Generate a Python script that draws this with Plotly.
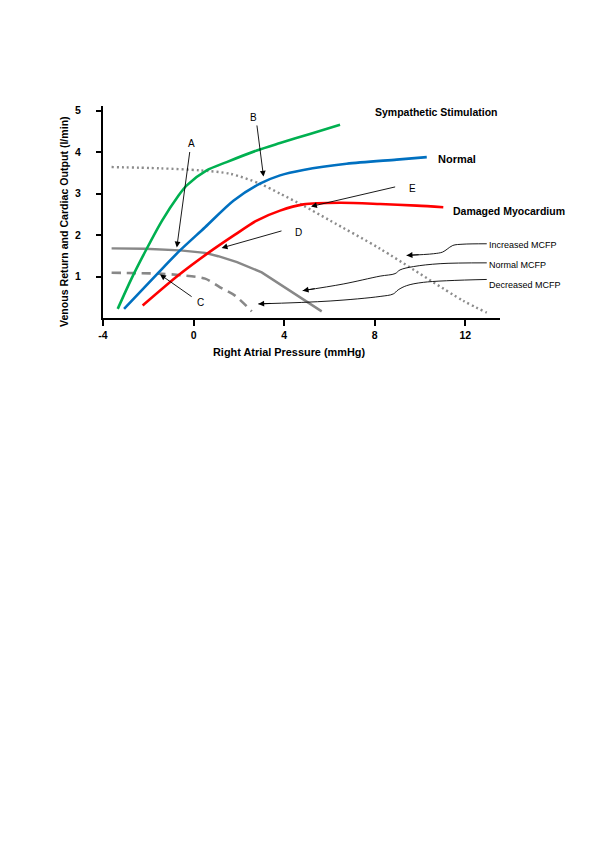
import plotly.graph_objects as go

# ---- data ----
symp_x = [-3.35, -2.74, -2.07, -1.39, -0.67, -0.30, 0.58, 1.46, 2.79, 3.82, 5.14, 6.47]
symp_y = [0.22, 0.95, 1.67, 2.35, 2.95, 3.20, 3.56, 3.76, 4.04, 4.22, 4.44, 4.66]

normal_x = [-3.07, -1.56, -0.60, 0.51, 1.76, 2.93, 3.82, 4.85, 6.76, 8.97, 10.30]
normal_y = [0.22, 1.09, 1.63, 2.19, 2.83, 3.24, 3.44, 3.57, 3.72, 3.82, 3.88]

damaged_x = [-2.25, -0.67, 0.65, 1.83, 2.79, 3.82, 4.85, 6.47, 8.24, 9.86, 11.03]
damaged_y = [0.30, 1.03, 1.57, 2.01, 2.35, 2.59, 2.74, 2.78, 2.75, 2.71, 2.67]

vr_normal_x = [-3.62, -2.15, -0.60, 0.51, 1.09, 1.92, 3.01, 5.66]
vr_normal_y = [1.68, 1.67, 1.63, 1.57, 1.49, 1.35, 1.10, 0.16]

vr_decr_x = [-3.62, -1.56, -0.52, 0.51, 1.17, 1.83, 2.57]
vr_decr_y = [1.09, 1.07, 1.03, 0.95, 0.74, 0.54, 0.16]

vr_incr_x = [-3.62, -1.48, 0.28, 1.61, 2.93, 3.82, 4.85, 6.03, 8.24, 11.90, 12.95]
vr_incr_y = [3.64, 3.61, 3.56, 3.48, 3.24, 3.00, 2.71, 2.35, 1.67, 0.42, 0.13]

# leader (brace) lines for the MCFP labels
lead_incr_x = [12.95, 11.90, 11.45, 11.20, 11.00, 10.60, 9.41]
lead_incr_y = [1.79, 1.78, 1.75, 1.66, 1.59, 1.55, 1.51]
lead_norm_x = [12.95, 10.89, 9.71, 9.12, 8.90, 8.24, 6.61, 4.82]
lead_norm_y = [1.33, 1.31, 1.24, 1.16, 1.07, 1.01, 0.82, 0.66]
lead_decr_x = [12.95, 10.15, 9.41, 9.04, 8.82, 8.24, 6.03, 2.86]
lead_decr_y = [0.93, 0.86, 0.78, 0.68, 0.58, 0.52, 0.41, 0.34]

x_ticks = [-4, 0, 4, 8, 12]
y_ticks = [1, 2, 3, 4, 5]

FONT = "Liberation Sans, Arial, sans-serif"

fig = go.Figure()

def curve(x, y, color, width=2.6, dash="solid", shape="spline"):
    fig.add_trace(go.Scatter(x=x, y=y, mode="lines",
                             line=dict(color=color, width=width, dash=dash, shape=shape,
                                       smoothing=0.8),
                             hoverinfo="skip", showlegend=False))

curve(vr_incr_x, vr_incr_y, "#8c8c8c", width=2.4, dash="2px,3px")
curve(vr_normal_x, vr_normal_y, "#888888", width=2.4, shape="linear")
curve(vr_decr_x, vr_decr_y, "#888888", width=2.6, dash="9px,6px")
curve(symp_x, symp_y, "#00B050")
curve(normal_x, normal_y, "#0070C0")
curve(damaged_x, damaged_y, "#FF0000")

for lx, ly in [(lead_incr_x, lead_incr_y), (lead_norm_x, lead_norm_y), (lead_decr_x, lead_decr_y)]:
    fig.add_trace(go.Scatter(x=lx, y=ly, mode="lines",
                             line=dict(color="black", width=0.9, shape="spline", smoothing=1.0),
                             hoverinfo="skip", showlegend=False))

annotations = []

def arrow(tail, tip):
    annotations.append(dict(x=tip[0], y=tip[1], ax=tail[0], ay=tail[1],
                            xref="x", yref="y", axref="x", ayref="y",
                            text="", showarrow=True, arrowhead=2, arrowsize=1.3,
                            arrowwidth=0.9, arrowcolor="black"))

def label(x, y, txt, size=10, bold=False, anchor="left"):
    annotations.append(dict(x=x, y=y, xref="x", yref="y", text=("<b>%s</b>" % txt) if bold else txt,
                            showarrow=False, xanchor=anchor, yanchor="middle",
                            font=dict(family=FONT, size=size, color="black")))

# lettered arrows
arrow((-0.16, 4.04), (-0.74, 1.70)); label(-0.10, 4.20, "A", anchor="center")
arrow((2.79, 4.68), (3.09, 3.41)); label(2.64, 4.84, "B", anchor="center")
arrow((-0.02, 0.49), (-1.48, 1.05)); label(0.30, 0.37, "C", anchor="center")
arrow((3.95, 2.11), (1.24, 1.69)); label(4.40, 2.07, "D")
arrow((8.97, 3.17), (5.19, 2.69)); label(9.41, 3.13, "E")

# arrowheads at the ends of the leader lines
for lx, ly in [(lead_incr_x, lead_incr_y), (lead_norm_x, lead_norm_y), (lead_decr_x, lead_decr_y)]:
    annotations.append(dict(x=lx[-1], y=ly[-1], ax=lx[-1] + 0.6, ay=ly[-1] + (ly[-2] - ly[-1]) * 0.6 / (lx[-2] - lx[-1]),
                            xref="x", yref="y", axref="x", ayref="y", text="", showarrow=True,
                            arrowhead=2, arrowsize=1.3, arrowwidth=0.9, arrowcolor="black"))

# curve names
label(7.93, 4.98, "Sympathetic Stimulation", size=10.5, bold=True)
label(10.70, 3.84, "Normal", size=11, bold=True)
label(11.36, 2.57, "Damaged Myocardium", size=10.5, bold=True)
label(12.97, 1.77, "Increased MCFP", size=9)
label(12.97, 1.28, "Normal MCFP", size=9)
label(12.97, 0.79, "Decreased MCFP", size=9)

# axis titles
annotations.append(dict(x=-0.098, y=0.453, xref="paper", yref="paper", textangle=-90,
                        text="<b>Venous Return and Cardiac Output (l/min)</b>", showarrow=False,
                        xanchor="center", yanchor="middle",
                        font=dict(family=FONT, size=10.6, color="black")))
annotations.append(dict(x=0.4685, y=-0.160, xref="paper", yref="paper",
                        text="<b>Right Atrial Pressure (mmHg)</b>", showarrow=False,
                        xanchor="center", yanchor="middle",
                        font=dict(family=FONT, size=10.9, color="black")))

# the page body adds an 8px offset, so margins are shifted to compensate
fig.update_layout(
    width=600, height=849,
    margin=dict(l=95, r=108, t=98, b=539),
    paper_bgcolor="white", plot_bgcolor="white",
    font=dict(family=FONT, color="black"),
    annotations=annotations,
    showlegend=False,
)
fig.update_xaxes(range=[-4, 13.535], tickvals=x_ticks, ticktext=["<b>%d</b>" % v for v in x_ticks],
                 showline=True, linecolor="black", linewidth=2, ticks="outside", ticklen=6,
                 tickwidth=2, tickcolor="black", showgrid=False, zeroline=False,
                 tickfont=dict(family=FONT, size=10.5, color="black"))
fig.update_yaxes(range=[0, 5.113], tickvals=y_ticks, ticktext=["<b>%d</b>" % v for v in y_ticks],
                 showline=True, linecolor="black", linewidth=2, ticks="outside", ticklen=5,
                 tickwidth=2, tickcolor="black", showgrid=False, zeroline=False,
                 ticklabelstandoff=13,
                 tickfont=dict(family=FONT, size=10.5, color="black"))

fig.write_html("out.html")
